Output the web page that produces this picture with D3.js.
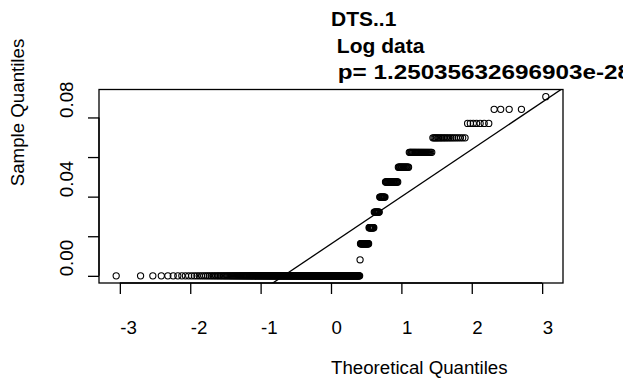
<!DOCTYPE html>
<html>
<head>
<meta charset="utf-8">
<script src="https://cdn.jsdelivr.net/npm/d3@7"></script>
<style>
  html, body { margin: 0; padding: 0; background: #fff; overflow: hidden; }
  svg { display: block; }
  text { font-family: "Liberation Sans", Arial, Helvetica, sans-serif; fill: #000; }
</style>
</head>
<body>
<div id="chart"></div>
<script>
// ---- data ----
// distinct sample values (log data) and how many observations sit at each
const sampleLevels = [0, 0.0081, 0.0162, 0.0243, 0.0322, 0.0398, 0.0474, 0.0549, 0.0624, 0.0697, 0.0770, 0.0841, 0.0905];
const levelCounts  = [290, 1, 19, 11, 11, 11, 22, 16, 26, 21, 7, 4, 1];
const xTicks = [-3, -2, -1, 0, 1, 2, 3];
const xTickLabels = ["-3", "-2", "-1", "0", "1", "2", "3"];
const yTicks = [0, 0.02, 0.04, 0.06, 0.08];
const yTickLabels = ["0.00", "", "0.04", "", "0.08"];
const titleLines = ["DTS..1", " Log data", " p= 1.25035632696903e-28"];
const xLabel = "Theoretical Quantiles";
const yLabel = "Sample Quantiles";

// ---- sample and theoretical quantiles (as qqnorm does) ----
const sample = [];
sampleLevels.forEach((v, i) => { for (let k = 0; k < levelCounts[i]; k++) sample.push(v); });
sample.sort(d3.ascending);
const n = sample.length;
const a = n <= 10 ? 3 / 8 : 0.5;
function qnorm(p) {
  // Acklam's inverse normal CDF
  const A = [-3.969683028665376e+01, 2.209460984245205e+02, -2.759285104469687e+02, 1.383577518672690e+02, -3.066479806614716e+01, 2.506628277459239e+00];
  const B = [-5.447609879822406e+01, 1.615858368580409e+02, -1.556989798598866e+02, 6.680131188771972e+01, -1.328068155288572e+01];
  const C = [-7.784894002430293e-03, -3.223964580411365e-01, -2.400758277161838e+00, -2.549732539343734e+00, 4.374664141464968e+00, 2.938163982698783e+00];
  const D = [7.784695709041462e-03, 3.224671290700398e-01, 2.445134137142996e+00, 3.754408661907416e+00];
  const pl = 0.02425, ph = 1 - pl;
  let q, r;
  if (p < pl) { q = Math.sqrt(-2 * Math.log(p)); return (((((C[0]*q+C[1])*q+C[2])*q+C[3])*q+C[4])*q+C[5]) / ((((D[0]*q+D[1])*q+D[2])*q+D[3])*q+1); }
  if (p > ph) { q = Math.sqrt(-2 * Math.log(1 - p)); return -(((((C[0]*q+C[1])*q+C[2])*q+C[3])*q+C[4])*q+C[5]) / ((((D[0]*q+D[1])*q+D[2])*q+D[3])*q+1); }
  q = p - 0.5; r = q * q;
  return (((((A[0]*r+A[1])*r+A[2])*r+A[3])*r+A[4])*r+A[5])*q / (((((B[0]*r+B[1])*r+B[2])*r+B[3])*r+B[4])*r+1);
}
const points = sample.map((y, i) => ({ x: qnorm((i + 1 - a) / (n + 1 - 2 * a)), y }));

// qqline through the 1st and 3rd quartiles
const yq1 = d3.quantile(sample, 0.25), yq3 = d3.quantile(sample, 0.75);
const xq1 = qnorm(0.25), xq3 = qnorm(0.75);
const slope = (yq3 - yq1) / (xq3 - xq1);
const intercept = yq1 - slope * xq1;

// ---- layout ----
const W = 623, H = 378;
const plot = { left: 99, right: 563, top: 89.5, bottom: 283 };
const xExt = d3.extent(points, d => d.x), yExt = d3.extent(points, d => d.y);
const xPad = (xExt[1] - xExt[0]) * 0.04, yPad = (yExt[1] - yExt[0]) * 0.04;
const x = d3.scaleLinear().domain([xExt[0] - xPad, xExt[1] + xPad]).range([plot.left, plot.right]);
const y = d3.scaleLinear().domain([yExt[0] - yPad, yExt[1] + yPad]).range([plot.bottom, plot.top]);

const FS = 18.7;     // axis text size
const TFS = 21;      // title size
const svg = d3.select("#chart").append("svg").attr("width", W).attr("height", H);
svg.append("rect").attr("width", W).attr("height", H).attr("fill", "#fff");

svg.append("clipPath").attr("id", "clip").append("rect")
  .attr("x", plot.left).attr("y", plot.top)
  .attr("width", plot.right - plot.left).attr("height", plot.bottom - plot.top);

// points
svg.append("g").selectAll("circle").data(points).join("circle")
  .attr("cx", d => x(d.x)).attr("cy", d => y(d.y)).attr("r", 3.1)
  .attr("fill", "none").attr("stroke", "#000").attr("stroke-width", 1.1);

// qq line
const xd = x.domain();
svg.append("line").attr("clip-path", "url(#clip)")
  .attr("x1", x(xd[0])).attr("y1", y(intercept + slope * xd[0]))
  .attr("x2", x(xd[1])).attr("y2", y(intercept + slope * xd[1]))
  .attr("stroke", "#000").attr("stroke-width", 1.3);

// box
svg.append("rect").attr("x", plot.left).attr("y", plot.top)
  .attr("width", plot.right - plot.left).attr("height", plot.bottom - plot.top)
  .attr("fill", "none").attr("stroke", "#000").attr("stroke-width", 1.3);

// x axis (labels start at the tick, as in the picture)
const xAxis = d3.axisBottom(x).tickValues(xTicks).tickSize(11).tickFormat((d, i) => xTickLabels[i]);
const gx = svg.append("g").attr("transform", `translate(0,${plot.bottom})`).call(xAxis);
gx.select(".domain").attr("d", `M${x(xTicks[0])},0H${x(xTicks[xTicks.length-1])}`).attr("stroke-width", 1.3);
gx.selectAll(".tick line").attr("stroke-width", 1.3);
gx.selectAll(".tick text").attr("x", 0).attr("y", 51).attr("dy", 0)
  .attr("font-size", FS).attr("font-family", "Liberation Sans, Arial, sans-serif")
  .attr("text-anchor", "start");

// y axis (rotated labels starting at the tick)
const yAxis = d3.axisLeft(y).tickValues(yTicks).tickSize(11).tickFormat((d, i) => yTickLabels[i]);
const gy = svg.append("g").attr("transform", `translate(${plot.left},0)`).call(yAxis);
gy.select(".domain").attr("d", `M0,${y(yTicks[0])}V${y(yTicks[yTicks.length-1])}`).attr("stroke-width", 1.3);
gy.selectAll(".tick line").attr("stroke-width", 1.3);
gy.selectAll(".tick text").attr("x", 0).attr("y", 0).attr("dy", 0)
  .attr("font-size", FS).attr("font-family", "Liberation Sans, Arial, sans-serif")
  .attr("text-anchor", "start")
  .attr("transform", `translate(-25.7,0) rotate(-90)`);

// axis titles
svg.append("text").attr("text-anchor", "start").attr("font-size", FS)
  .attr("x", (plot.left + plot.right) / 2).attr("y", 374)
  .text(xLabel);
svg.append("text").attr("text-anchor", "start").attr("font-size", FS)
  .attr("transform", `translate(23.5,${(plot.top + plot.bottom) / 2}) rotate(-90)`)
  .text(yLabel);

// title (the last line runs past the right edge in the picture)
const title = svg.append("g");
titleLines.forEach((t, i) => {
  const tx = title.append("text").attr("font-size", TFS).attr("font-weight", "bold")
    .attr("xml:space", "preserve").style("white-space", "pre")
    .attr("x", (plot.left + plot.right) / 2).attr("y", 26 + i * 26.5)
    .text(t);
  if (i === titleLines.length - 1) tx.attr("textLength", 300).attr("lengthAdjust", "spacingAndGlyphs");
});
</script>
</body>
</html>
